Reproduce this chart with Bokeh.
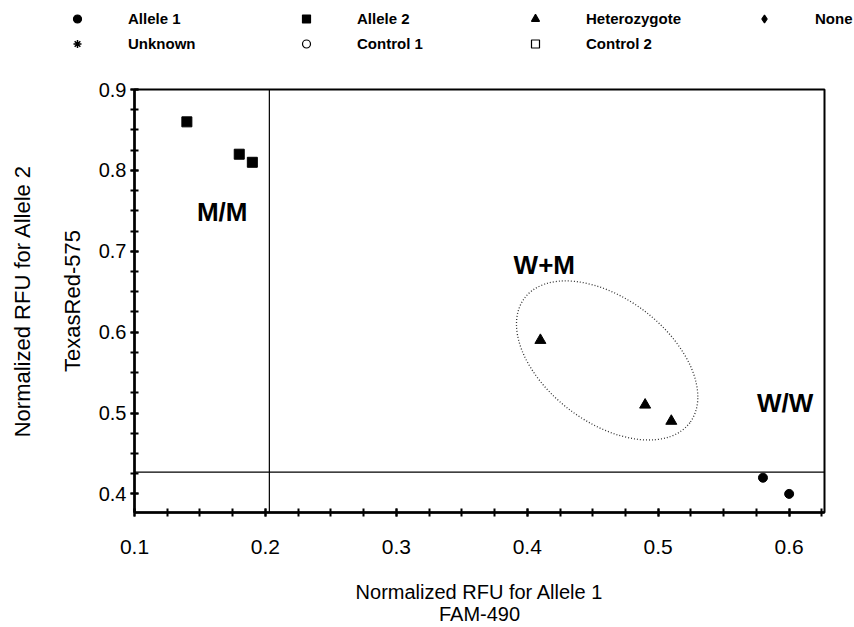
from bokeh.plotting import figure
from bokeh.layouts import column
from bokeh.models import (ColumnDataSource, Range1d, LinearAxis, FixedTicker,
                          SingleIntervalTicker, Span, Legend, LegendItem)
from bokeh.core.properties import value
from bokeh.embed import file_html
from bokeh.resources import INLINE

# ---- data ----
allele1_x = [0.58, 0.60]
allele1_y = [0.42, 0.40]
allele2_x = [0.14, 0.18, 0.19]
allele2_y = [0.86, 0.82, 0.81]
het_x = [0.41, 0.49, 0.51]
het_y = [0.59, 0.51, 0.49]

cluster_labels = ["M/M", "W+M", "W/W"]
cluster_label_x = [0.167, 0.413, 0.597]
cluster_label_y = [0.748, 0.683, 0.513]

het_ellipse_x = [0.461]
het_ellipse_y = [0.565]

threshold_x = 0.203
threshold_y = 0.427

legend_labels = ["Allele 1", "Allele 2", "Heterozygote", "None",
                 "Unknown", "Control 1", "Control 2"]
legend_markers = ["circle", "square", "triangle", "diamond",
                  "asterisk", "circle", "square"]
legend_filled = [True, True, True, True, False, False, False]

x_title = "Normalized RFU for Allele 1\nFAM-490"
y_title_inner = "TexasRed-575"
y_title_outer = "Normalized RFU for Allele 2"

FONT = "Liberation Sans"

# ---------------- main plot ----------------
p = figure(width=854, height=567, output_backend="svg", toolbar_location=None,
           x_range=Range1d(0.1, 0.627), y_range=Range1d(0.377, 0.9),
           min_border_left=134, min_border_right=30, min_border_top=29,
           min_border_bottom=112)
p.xgrid.visible = False
p.ygrid.visible = False
p.outline_line_color = "black"
p.outline_line_width = 2
p.background_fill_color = "white"
p.border_fill_color = "white"

for ax in (p.xaxis[0], p.yaxis[0]):
    ax.axis_line_width = 2.5
    ax.axis_line_color = "black"
    ax.major_tick_line_width = 2
    ax.minor_tick_line_width = 2
    ax.major_tick_in = 4
    ax.major_tick_out = 4
    ax.minor_tick_in = 4
    ax.minor_tick_out = 4
    ax.major_label_text_font = FONT
    ax.major_label_text_color = "black"
    ax.axis_label_text_font = FONT
    ax.axis_label_text_font_style = "normal"
    ax.axis_label_text_color = "black"

p.xaxis[0].ticker = SingleIntervalTicker(interval=0.1, num_minor_ticks=4)
p.yaxis[0].ticker = SingleIntervalTicker(interval=0.1, num_minor_ticks=4)
p.xaxis[0].major_label_text_font_size = "21px"
p.yaxis[0].major_label_text_font_size = "20px"
p.xaxis[0].major_label_standoff = 23
p.yaxis[0].major_label_standoff = 4
p.xaxis[0].axis_label = x_title
p.xaxis[0].axis_label_text_font_size = "20px"
p.xaxis[0].axis_label_text_line_height = 1.0
p.xaxis[0].axis_label_standoff = 24
p.yaxis[0].axis_label = y_title_inner
p.yaxis[0].axis_label_text_font_size = "22px"
p.yaxis[0].axis_label_standoff = 11

outer = LinearAxis(ticker=FixedTicker(ticks=[]), axis_label=y_title_outer,
                   axis_line_color=None, major_tick_line_color=None,
                   minor_tick_line_color=None, major_tick_in=0, major_tick_out=0,
                   minor_tick_in=0, minor_tick_out=0, major_label_standoff=0,
                   axis_label_standoff=22, axis_label_text_font=FONT,
                   axis_label_text_font_size="22px",
                   axis_label_text_font_style="normal",
                   axis_label_text_color="black")
p.add_layout(outer, "left")

# thresholds
p.add_layout(Span(location=threshold_x, dimension="height", line_color="black",
                  line_width=1.2))
p.add_layout(Span(location=threshold_y, dimension="width", line_color="black",
                  line_width=1.2))

# cluster ellipse
p.ellipse(x=het_ellipse_x, y=het_ellipse_y, width=207, height=124,
          width_units="screen", height_units="screen", angle=-37,
          angle_units="deg", fill_color=None, line_color="#333333",
          line_width=1.3, line_dash="1 2")

# data
p.scatter(allele1_x, allele1_y, marker="circle", size=9, color="black")
p.scatter(allele2_x, allele2_y, marker="square", size=10, color="black")
p.scatter(het_x, het_y, marker="triangle", size=11, color="black")

# cluster labels
p.text(x=cluster_label_x, y=cluster_label_y, text=cluster_labels,
       text_font=value(FONT), text_font_style="bold", text_font_size="26px",
       text_align="center", text_baseline="middle", text_color="black")

# ---------------- legend strip ----------------
lg = figure(width=854, height=60, output_backend="svg", toolbar_location=None,
            x_range=Range1d(0, 1), y_range=Range1d(0, 1), min_border=0,
            x_axis_type=None, y_axis_type=None)
lg.xgrid.visible = False
lg.ygrid.visible = False
lg.outline_line_color = None
lg.border_fill_color = "white"
lg.background_fill_color = "white"

nan = float("nan")
items = []
for lab, mk, filled in zip(legend_labels, legend_markers, legend_filled):
    src = ColumnDataSource(dict(x=[nan], y=[nan]))
    r = lg.scatter("x", "y", source=src, marker=mk, size=8,
                   fill_color="black" if filled else "white",
                   line_color="black", line_width=1.5 if mk == "asterisk" else 1.2)
    items.append(LegendItem(label=lab, renderers=[r]))

legend = Legend(items=items, orientation="horizontal", ncols=4,
                location=(67, 4.5), padding=0, margin=0, spacing=0,
                glyph_width=20, glyph_height=25, label_height=25,
                label_width=168, label_standoff=41,
                label_text_font=FONT,
                label_text_font_style="bold", label_text_font_size="15px",
                label_text_color="black",
                border_line_color=None, background_fill_alpha=0)
lg.add_layout(legend, "center")

layout = column(column(lg), p, spacing=0)
open("out.html", "w").write(file_html(layout, INLINE))
